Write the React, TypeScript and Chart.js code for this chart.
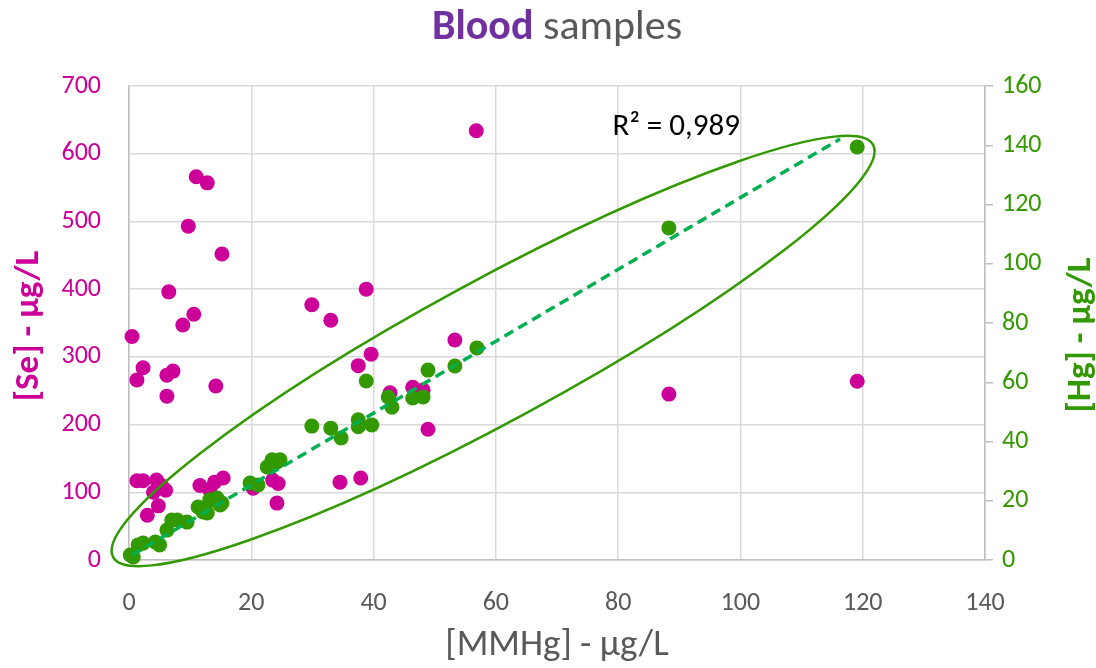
import React, { useEffect, useRef } from 'react';
import { Chart, registerables } from 'chart.js';

Chart.register(...registerables);

const FONT = 'Carlito, Calibri, Lato, "Open Sans", sans-serif';
const MAGENTA = '#cc0099';
const GREEN = '#339900';
const TREND = '#00b050';
const GRAY = '#595959';

// Title
const TITLE_BOLD = 'Blood';
const TITLE_REST = ' samples';
const SE_TITLE = '[Se] - µg/L';
const HG_TITLE = '[Hg] - µg/L';
const X_TITLE = '[MMHg] - µg/L';

// Axis ticks
const xTickValues = [0, 20, 40, 60, 80, 100, 120, 140];
const seTickValues = [0, 100, 200, 300, 400, 500, 600, 700];
const hgTickValues = [0, 20, 40, 60, 80, 100, 120, 140, 160];

// [Se] series (left axis) vs [MMHg]
const seX = [0.5, 1.3, 2.3, 1.3, 2.3, 3.0, 4.5, 4.0, 5.3, 6.0, 4.8, 6.2, 7.2, 6.2, 6.5, 8.8, 10.6, 9.7, 11.0, 12.8, 15.2, 14.2, 11.6, 14.0, 15.4, 13.2, 20.3, 23.5, 24.4, 24.2, 29.9, 33.0, 38.8, 39.6, 37.5, 34.5, 37.9, 42.7, 46.4, 48.1, 48.9, 53.3, 56.8, 88.3, 119.1];
const seY = [330, 266, 284, 117, 117, 66, 118, 100, 110, 103, 80, 273, 279, 242, 396, 347, 363, 493, 566, 557, 452, 257, 110, 115, 121, 103, 106, 118, 113, 84, 377, 354, 400, 304, 287, 115, 121, 247, 255, 251, 193, 325, 634, 245, 264];

// [Hg] series (right axis) vs [MMHg]
const hgX = [0.2, 0.7, 1.5, 2.3, 4.3, 5.0, 6.2, 7.0, 7.9, 9.5, 11.3, 12.1, 12.8, 13.2, 14.4, 14.9, 15.2, 19.8, 21.1, 22.6, 23.4, 24.2, 24.7, 29.9, 33.0, 34.7, 37.5, 37.5, 39.7, 38.8, 42.4, 43.0, 46.4, 48.1, 48.9, 53.3, 56.9, 88.3, 119.1];
const hgY = [1.7, 1.0, 5.1, 5.7, 6.1, 5.1, 10.1, 13.5, 13.5, 12.8, 17.9, 16.2, 15.9, 20.3, 20.9, 18.6, 19.2, 26.0, 25.3, 31.4, 33.8, 33.1, 33.8, 45.2, 44.5, 41.2, 47.3, 45.0, 45.6, 60.4, 55.0, 51.6, 54.7, 55.0, 64.1, 65.5, 71.6, 112.1, 139.4];

// Linear trendline of [Hg] (endpoints)
const trendX = [0.5, 116.3];
const trendY = [1.7, 142.1];
const R2_LABEL = 'R² = 0,989';
const R2_POS = [89.5, 146.2];

// Ellipse annotation: major axis endpoints (data units, Hg axis) + minor/major ratio
const ellipseX = [-2.6, 121.7];
const ellipseY = [1.0, 140.1];
const ELLIPSE_RATIO = 0.163;

const toPts = (xs: number[], ys: number[]) => xs.map((x, i) => ({ x, y: ys[i] }));

const overlayPlugin = {
  id: 'overlay',
  afterDatasetsDraw(chart: any) {
    const { ctx } = chart;
    const xs = chart.scales.x;
    const ys = chart.scales.y2;
    const x1 = xs.getPixelForValue(ellipseX[0]);
    const y1 = ys.getPixelForValue(ellipseY[0]);
    const x2 = xs.getPixelForValue(ellipseX[1]);
    const y2 = ys.getPixelForValue(ellipseY[1]);
    const cx = (x1 + x2) / 2;
    const cy = (y1 + y2) / 2;
    const a = Math.hypot(x2 - x1, y2 - y1) / 2;
    const ang = Math.atan2(y2 - y1, x2 - x1);
    ctx.save();
    ctx.beginPath();
    ctx.ellipse(cx, cy, a, a * ELLIPSE_RATIO, ang, 0, Math.PI * 2);
    ctx.strokeStyle = GREEN;
    ctx.lineWidth = 2.5;
    ctx.stroke();
    // R² label
    ctx.font = `31px ${FONT}`;
    ctx.fillStyle = '#000000';
    ctx.textAlign = 'center';
    ctx.textBaseline = 'middle';
    ctx.fillText(R2_LABEL, xs.getPixelForValue(R2_POS[0]), ys.getPixelForValue(R2_POS[1]));
    ctx.restore();
  },
  afterDraw(chart: any) {
    const { ctx, chartArea } = chart;
    ctx.save();
    // Chart title (two styles), centred over the plot area
    const size = 42;
    ctx.font = `bold ${size}px ${FONT}`;
    const w1 = ctx.measureText(TITLE_BOLD).width;
    ctx.font = `${size}px ${FONT}`;
    const w2 = ctx.measureText(TITLE_REST).width;
    const start = (chartArea.left + chartArea.right) / 2 - (w1 + w2) / 2;
    ctx.textBaseline = 'middle';
    ctx.textAlign = 'left';
    ctx.font = `bold ${size}px ${FONT}`;
    ctx.fillStyle = '#7030a0';
    ctx.fillText(TITLE_BOLD, start, 28);
    ctx.font = `${size}px ${FONT}`;
    ctx.fillStyle = GRAY;
    ctx.fillText(TITLE_REST, start + w1, 28);

    // Vertical axis titles (both read bottom-to-top)
    const midY = (chartArea.top + chartArea.bottom) / 2;
    ctx.textAlign = 'center';
    ctx.font = `bold 35px ${FONT}`;
    ctx.save();
    ctx.translate(29, midY + 3);
    ctx.rotate(-Math.PI / 2);
    ctx.fillStyle = MAGENTA;
    ctx.fillText(SE_TITLE, 0, 0);
    ctx.restore();
    ctx.save();
    ctx.translate(1081, midY + 12);
    ctx.rotate(-Math.PI / 2);
    ctx.fillStyle = GREEN;
    ctx.fillText(HG_TITLE, 0, 0);
    ctx.restore();
    ctx.restore();
  },
};

export default function App() {
  const ref = useRef<HTMLCanvasElement | null>(null);
  useEffect(() => {
    document.body.style.margin = '0';
    const canvas = ref.current;
    if (!canvas) return;
    const chart = new Chart(canvas, {
      type: 'scatter',
      data: {
        datasets: [
          {
            type: 'line',
            label: 'Trend',
            data: toPts(trendX, trendY),
            yAxisID: 'y2',
            borderColor: TREND,
            borderWidth: 3.5,
            borderDash: [10, 6],
            pointRadius: 0,
            showLine: true,
            fill: false,
            clip: false,
          } as any,
          {
            label: '[Hg]',
            data: toPts(hgX, hgY),
            yAxisID: 'y2',
            backgroundColor: GREEN,
            borderWidth: 0,
            pointRadius: 7.5,
            clip: false,
          } as any,
          {
            label: '[Se]',
            data: toPts(seX, seY),
            yAxisID: 'y',
            backgroundColor: MAGENTA,
            borderWidth: 0,
            pointRadius: 7.5,
            clip: false,
          } as any,
        ],
      },
      options: {
        responsive: false,
        animation: false,
        events: [],
        layout: { padding: { top: 86, left: 0, right: 0, bottom: 0 } },
        plugins: {
          legend: { display: false },
          tooltip: { enabled: false },
          title: { display: false },
        },
        scales: {
          x: {
            type: 'linear',
            min: 0,
            max: 140,
            afterBuildTicks: (s: any) => { s.ticks = xTickValues.map((v) => ({ value: v })); },
            ticks: { color: GRAY, font: { family: FONT, size: 26 }, padding: 28 },
            grid: { color: '#d9d9d9', lineWidth: 1.5, drawTicks: false },
            border: { color: '#bfbfbf', width: 1.5 },
            title: {
              display: true,
              text: X_TITLE,
              color: GRAY,
              font: { family: FONT, size: 37 },
              padding: { top: 0, bottom: 0 },
            },
            afterFit: (s: any) => { s.height = 108; },
          },
          y: {
            type: 'linear',
            position: 'left',
            min: 0,
            max: 700,
            afterBuildTicks: (s: any) => { s.ticks = seTickValues.map((v) => ({ value: v })); },
            ticks: { color: MAGENTA, font: { family: FONT, size: 26 }, padding: 28 },
            grid: { color: '#d9d9d9', lineWidth: 1.5, drawTicks: false },
            border: { color: '#bfbfbf', width: 1.5 },
            title: { display: false },
            afterFit: (s: any) => { s.width = 129; },
          },
          y2: {
            type: 'linear',
            position: 'right',
            min: 0,
            max: 160,
            afterBuildTicks: (s: any) => { s.ticks = hgTickValues.map((v) => ({ value: v })); },
            ticks: { color: GREEN, font: { family: FONT, size: 26 }, padding: 9 },
            grid: { drawOnChartArea: false, color: '#bfbfbf', lineWidth: 1.5, tickLength: 8 },
            border: { color: '#bfbfbf', width: 1.5 },
            title: { display: false },
            afterFit: (s: any) => { s.width = 111; },
          },
        },
      } as any,
      plugins: [overlayPlugin],
    });
    return () => chart.destroy();
  }, []);
  return (
    <div style={{ width: 1096, height: 668, background: '#ffffff' }}>
      <canvas ref={ref} width={1096} height={668} style={{ display: 'block' }} />
    </div>
  );
}
